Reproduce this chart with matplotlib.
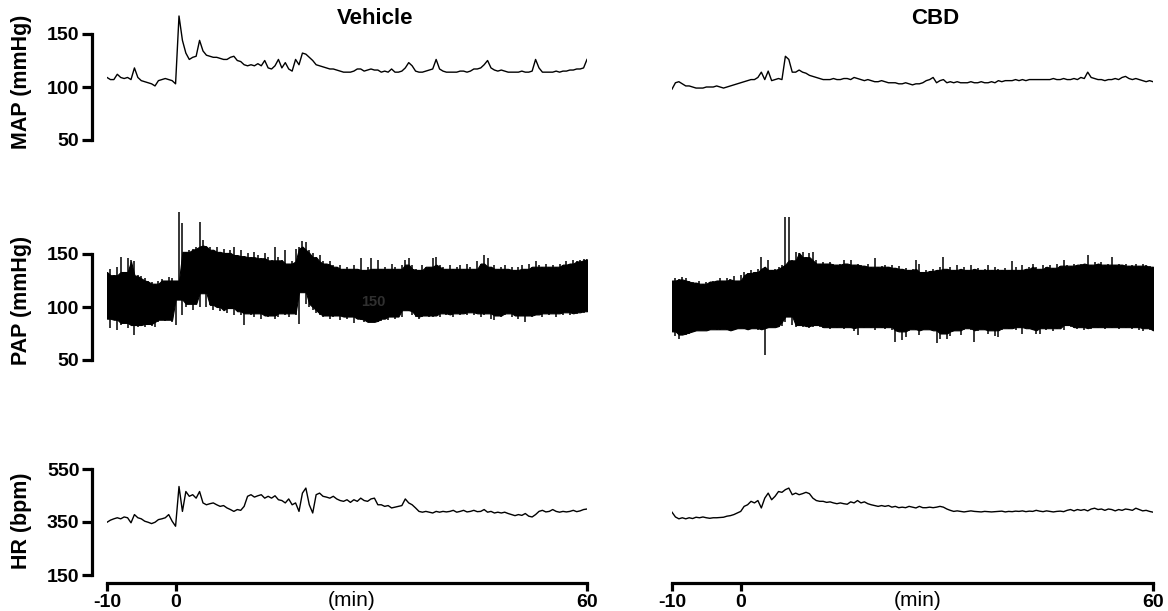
import numpy as np
import matplotlib.pyplot as plt

plt.rcParams['font.family'] = ['Liberation Sans', 'DejaVu Sans']
plt.rcParams['axes.unicode_minus'] = False

# sampling grid (min), one value every 0.5 min from -10 to 60
time = np.linspace(-10, 60, 141)

map_vehicle = [
    109, 107, 107, 112, 109, 108, 109, 107, 118, 109, 106, 105, 104, 103, 101, 106, 107, 108, 107, 106,
    103, 167, 144, 132, 126, 128, 129, 144, 134, 130, 129, 128, 128, 127, 126, 126, 128, 129, 125, 124,
    121, 120, 121, 120, 122, 120, 125, 118, 117, 120, 126, 118, 123, 117, 115, 126, 121, 132, 131, 128,
    125, 121, 120, 119, 118, 117, 117, 116, 115, 114, 114, 114, 115, 117, 117, 115, 116, 117, 116, 116,
    114, 115, 114, 117, 114, 114, 115, 118, 123, 120, 115, 114, 114, 115, 116, 117, 126, 117, 115, 114,
    114, 114, 114, 115, 115, 114, 115, 117, 117, 118, 121, 125, 118, 116, 115, 116, 115, 114, 114, 114,
    114, 115, 114, 114, 115, 126, 118, 114, 114, 114, 114, 115, 114, 115, 115, 116, 116, 117, 117, 118, 126,
]
map_cbd = [
    98, 104, 105, 103, 101, 101, 100, 99, 99, 99, 100, 100, 100, 101, 100, 99, 100, 101, 102, 103,
    104, 105, 106, 107, 107, 109, 114, 107, 115, 106, 107, 108, 107, 129, 126, 114, 114, 116, 114, 113,
    111, 110, 109, 108, 107, 107, 107, 108, 107, 107, 108, 108, 107, 109, 108, 107, 106, 107, 106, 105,
    105, 106, 105, 104, 104, 104, 103, 103, 104, 103, 102, 103, 103, 104, 106, 107, 109, 104, 106, 107,
    104, 105, 104, 105, 104, 104, 104, 105, 104, 104, 105, 104, 104, 105, 104, 106, 105, 106, 106, 106,
    107, 106, 107, 106, 107, 107, 107, 107, 107, 107, 107, 108, 107, 107, 108, 107, 107, 108, 107, 109,
    108, 114, 109, 108, 107, 107, 106, 107, 107, 108, 107, 109, 110, 108, 107, 108, 107, 106, 105, 106, 105,
]

pap_vehicle_hi = [
    133, 136, 130, 138, 147, 133, 146, 144, 143, 130, 129, 127, 125, 124, 122, 125, 126, 125, 128, 127,
    125, 190, 179, 152, 154, 155, 157, 180, 163, 158, 157, 154, 157, 152, 155, 151, 154, 157, 149, 154,
    148, 151, 147, 152, 149, 146, 151, 147, 144, 157, 147, 144, 154, 141, 143, 155, 157, 162, 161, 154,
    151, 147, 149, 143, 141, 143, 140, 138, 140, 136, 138, 136, 140, 136, 146, 135, 138, 146, 136, 144,
    136, 138, 136, 141, 138, 136, 140, 144, 146, 140, 136, 135, 140, 138, 138, 146, 147, 140, 138, 136,
    140, 136, 138, 140, 136, 141, 138, 136, 143, 141, 149, 146, 138, 140, 136, 138, 140, 136, 138, 135,
    138, 140, 136, 141, 138, 143, 140, 138, 141, 138, 140, 138, 141, 140, 143, 141, 144, 143, 144, 145, 145,
]
pap_vehicle_lo = [
    89, 80, 88, 78, 83, 85, 80, 83, 74, 81, 83, 81, 84, 82, 81, 86, 88, 87, 88, 86,
    83, 107, 92, 100, 103, 97, 103, 100, 113, 100, 102, 97, 100, 96, 97, 94, 99, 92, 96, 92,
    83, 94, 92, 91, 94, 89, 92, 91, 92, 89, 91, 94, 92, 91, 94, 92, 84, 114, 103, 100,
    97, 94, 92, 91, 92, 89, 91, 92, 88, 91, 89, 91, 85, 89, 88, 86, 86, 86, 86, 86,
    87, 89, 88, 91, 89, 91, 91, 97, 96, 92, 91, 89, 91, 92, 91, 91, 92, 91, 94, 92,
    93, 91, 94, 92, 94, 92, 95, 92, 94, 91, 92, 94, 89, 88, 92, 91, 92, 94, 91, 92,
    89, 92, 86, 92, 91, 92, 93, 91, 94, 92, 94, 91, 94, 92, 95, 92, 94, 93, 95, 94, 96,
]
pap_cbd_hi = [
    125, 127, 126, 128, 127, 125, 124, 123, 125, 122, 124, 124, 125, 125, 127, 125, 127, 126, 129, 125,
    130, 133, 132, 135, 133, 136, 147, 138, 144, 135, 136, 138, 140, 185, 185, 144, 152, 151, 152, 147,
    151, 152, 144, 141, 142, 141, 142, 141, 140, 141, 144, 141, 144, 140, 141, 140, 139, 141, 138, 146,
    138, 139, 140, 138, 140, 137, 139, 136, 137, 135, 136, 144, 141, 133, 135, 134, 136, 135, 138, 147,
    136, 138, 135, 140, 136, 138, 135, 140, 136, 137, 135, 136, 140, 135, 138, 136, 135, 137, 135, 143,
    138, 135, 140, 136, 138, 141, 138, 136, 140, 138, 140, 137, 141, 139, 144, 140, 139, 141, 140, 141,
    141, 149, 140, 142, 141, 142, 140, 141, 147, 140, 141, 140, 141, 139, 140, 141, 139, 141, 140, 139, 138,
]
pap_cbd_lo = [
    77, 73, 70, 74, 74, 75, 76, 77, 78, 78, 78, 78, 79, 78, 78, 79, 78, 78, 78, 79,
    80, 79, 78, 79, 80, 78, 79, 55, 80, 81, 81, 81, 82, 86, 91, 83, 81, 83, 81, 82,
    80, 81, 83, 81, 80, 81, 79, 81, 80, 81, 79, 81, 80, 77, 74, 81, 80, 81, 80, 78,
    81, 80, 79, 81, 78, 67, 77, 69, 72, 77, 79, 78, 74, 78, 79, 78, 78, 66, 70, 75,
    70, 73, 77, 78, 74, 78, 80, 78, 67, 77, 79, 78, 75, 78, 73, 72, 78, 80, 79, 80,
    78, 81, 75, 80, 79, 78, 75, 75, 80, 78, 80, 77, 79, 80, 78, 83, 81, 80, 79, 81,
    78, 80, 79, 81, 80, 81, 79, 81, 80, 81, 79, 81, 80, 81, 79, 81, 78, 77, 80, 78, 78,
]

hr_vehicle = [
    349, 357, 362, 366, 362, 369, 366, 347, 378, 366, 362, 353, 349, 344, 349, 359, 362, 366, 378, 353,
    334, 484, 390, 465, 447, 453, 440, 465, 422, 415, 419, 422, 415, 409, 412, 403, 397, 390, 397, 394,
    409, 447, 453, 444, 449, 453, 440, 447, 440, 449, 434, 431, 422, 437, 415, 422, 390, 459, 478, 415,
    384, 453, 459, 447, 444, 440, 447, 437, 431, 428, 434, 424, 434, 428, 440, 431, 428, 437, 440, 415,
    415, 409, 412, 403, 406, 409, 412, 437, 422, 415, 403, 390, 387, 390, 387, 384, 390, 387, 390, 388,
    390, 394, 387, 390, 394, 388, 390, 394, 389, 390, 397, 387, 390, 384, 387, 384, 387, 382, 378, 374,
    378, 375, 382, 372, 369, 378, 390, 394, 388, 390, 397, 390, 387, 390, 388, 390, 394, 389, 392, 397, 399,
]
hr_cbd = [
    387, 369, 362, 366, 362, 366, 363, 368, 366, 369, 366, 364, 366, 366, 367, 368, 372, 374, 378, 384,
    390, 409, 415, 428, 422, 431, 403, 440, 459, 434, 447, 465, 462, 472, 478, 453, 459, 453, 457, 462,
    457, 440, 431, 428, 428, 424, 426, 422, 419, 422, 419, 417, 426, 422, 431, 422, 426, 419, 415, 412,
    409, 412, 409, 412, 406, 409, 404, 406, 404, 409, 406, 403, 409, 404, 404, 406, 404, 406, 409, 406,
    399, 394, 390, 392, 390, 388, 390, 392, 390, 389, 388, 390, 389, 388, 389, 390, 391, 388, 390, 389,
    391, 390, 392, 389, 391, 390, 394, 391, 389, 392, 390, 388, 390, 391, 389, 394, 397, 392, 397, 394,
    397, 392, 399, 402, 397, 399, 394, 399, 397, 392, 397, 394, 399, 397, 394, 402, 397, 392, 394, 390, 387,
]

groups = ["Vehicle", "CBD"]
xticks = [-10, 0, 60]

W, H = 1168, 611
fig = plt.figure(figsize=(W / 100, H / 100), dpi=100)

# pixel layout: x of -10 and 60 per column, y pixel of lowest/highest tick per row
col_px = [(107, 587), (672, 1153)]
rows = [
    # label, ticks, y range, px of first tick, px of last tick, label centre
    ("MAP (mmHg)", [50, 100, 150], (50, 172), 140, 34, 82),
    ("PAP (mmHg)", [50, 100, 150], (50, 195), 360, 254, 300),
    ("HR (bpm)", [150, 350, 550], (150, 550), 575, 469, 521),
]


def rect(x0, x1, p_lo, p_hi, lo, hi, ymin, ymax):
    ppu = (p_lo - p_hi) / (hi - lo)
    bot = p_lo + (lo - ymin) * ppu
    top = p_lo - (ymax - lo) * ppu
    return [x0 / W, 1 - bot / H, (x1 - x0) / W, (bot - top) / H]


def core(vals, fn):
    # body of the dense trace: the tighter of each sample and its neighbours
    v = np.asarray(vals, dtype=float)
    left = np.r_[v[0], v[:-1]]
    right = np.r_[v[1:], v[-1]]
    return fn(fn(left, v), right)


traces = {
    (0, 0): [map_vehicle], (0, 1): [map_cbd],
    (1, 0): [pap_vehicle_lo, pap_vehicle_hi], (1, 1): [pap_cbd_lo, pap_cbd_hi],
    (2, 0): [hr_vehicle], (2, 1): [hr_cbd],
}

for r, (label, ticks, (ymin, ymax), p_lo, p_hi, label_y) in enumerate(rows):
    for c in range(2):
        x0, x1 = col_px[c]
        ax = fig.add_axes(rect(x0, x1, p_lo, p_hi, ticks[0], ticks[-1], ymin, ymax))
        ax.set_xlim(-10, 60)
        ax.set_ylim(ymin, ymax)
        ax.patch.set_visible(False)

        data = traces[(r, c)]
        if len(data) == 2:
            lo, hi = data
            ax.fill_between(time, core(lo, np.maximum), core(hi, np.minimum),
                            color="black", lw=0.8, edgecolor="black")
            ax.vlines(time, lo, hi, color="black", lw=1.1)
        else:
            ax.plot(time, data[0], color="black", lw=1.0)

        for s in ["top", "right"]:
            ax.spines[s].set_visible(False)

        if c == 0:
            ax.spines["left"].set_position(("outward", 15 * 0.72))
            ax.spines["left"].set_linewidth(2.3)
            ax.spines["left"].set_bounds(ticks[0], ticks[-1])
            ax.set_yticks(ticks)
            ax.tick_params(axis="y", width=2.3, length=7, labelsize=14, pad=2)
            for t in ax.get_yticklabels():
                t.set_fontweight("bold")
        else:
            ax.spines["left"].set_visible(False)
            ax.set_yticks([])

        if r == 2:
            ax.spines["bottom"].set_position(("outward", 8 * 0.72))
            ax.spines["bottom"].set_linewidth(2.3)
            ax.spines["bottom"].set_bounds(-10, 60)
            ax.set_xticks(xticks)
            ax.tick_params(axis="x", width=2.3, length=6, labelsize=14, pad=2)
            for t in ax.get_xticklabels():
                t.set_fontweight("bold")
            fig.text((x0 + x1) / 2 / W + 5 / W, 1 - 601 / H, "(min)", ha="center", va="center",
                     fontsize=15)
        else:
            ax.spines["bottom"].set_visible(False)
            ax.set_xticks([])

        if r == 0:
            fig.text([375, 935][c] / W, 1 - 19 / H, groups[c], ha="center", va="center",
                     fontsize=16, fontweight="bold")

    fig.text(22 / W, 1 - label_y / H, label, rotation=90, ha="center", va="center",
             fontsize=15.5, fontweight="bold")

# stray label visible inside the vehicle PAP trace
fig.text(373 / W, 1 - 302 / H, "150", ha="center", va="center", fontsize=10.5,
         fontweight="bold", color="#303030")

fig.savefig("out.png", dpi=100)
